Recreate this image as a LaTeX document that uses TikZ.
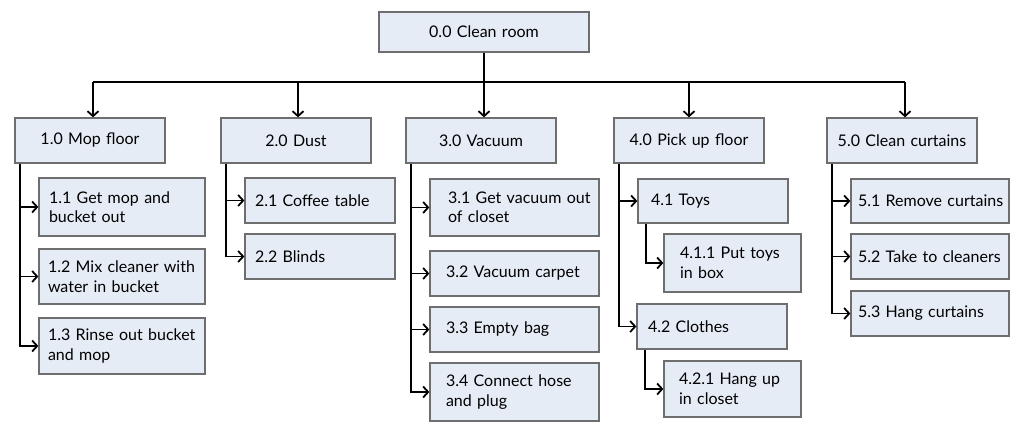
\documentclass[tikz,border=0pt]{standalone}
\usepackage{fontspec}
\setmainfont{Lato}
\usetikzlibrary{arrows.meta,calc}
\definecolor{boxfill}{HTML}{E6ECF6}
\definecolor{boxdraw}{HTML}{6E6E6E}
\tikzset{
  wbs/.style={draw=boxdraw, fill=boxfill, line width=1.3pt, rectangle, inner ysep=0pt, font=\fontsize{16}{19.5}\selectfont},
  arr/.style={line width=1.8pt, -{Straight Barb[length=5pt,width=11pt]}},
  ln/.style={line width=1.8pt},
}
% \wbsbox{name}{x1}{y1}{x2}{y2}{padleft}{align}{text}
\newcommand{\wbsbox}[8]{%
  \pgfmathsetmacro{\bw}{#4-#2}\pgfmathsetmacro{\bh}{#5-#3}%
  \pgfmathsetmacro{\tw}{#4-#2-2*#6}%
  \node[wbs, minimum width=\bw pt, minimum height=\bh pt, inner xsep=#6pt, text width=\tw pt, align=#7] (#1) at ({(#2+#4)/2},{(#3+#5)/2}) {#8};%
}
\newcommand{\wline}[1]{\mbox{#1}}
\begin{document}
\begin{tikzpicture}[x=1pt,y=-1pt]
\useasboundingbox (0,0) rectangle (1024,436);
% root
\wbsbox{root}{379}{12}{589}{52}{4}{center}{0.0 Clean room}
% level 1
\wbsbox{a}{15}{118}{165}{163}{4}{center}{1.0 Mop floor}
\wbsbox{b}{221}{118}{371}{163}{4}{center}{2.0 Dust}
\wbsbox{c}{406}{118}{556}{163}{4}{center}{3.0 Vacuum}
\wbsbox{d}{614}{118}{764}{163}{4}{center}{4.0 Pick up floor}
\wbsbox{e}{827}{118}{977}{163}{4}{center}{5.0 Clean curtains}
% level 2
\wbsbox{a1}{39}{178}{205}{236}{10}{left}{\wline{1.1 Get mop and}\\\wline{bucket out}}
\wbsbox{a2}{39}{249}{205}{304}{9}{left}{\wline{1.2 Mix cleaner with}\\\wline{water in bucket}}
\wbsbox{a3}{39}{318}{205}{374}{9}{left}{\wline{1.3 Rinse out bucket}\\\wline{and mop}}
\wbsbox{b1}{245}{178}{395}{223}{10}{left}{\wline{2.1 Coffee table}}
\wbsbox{b2}{245}{234}{395}{279}{10}{left}{\wline{2.2 Blinds}}
\wbsbox{c1}{430}{179}{599}{236}{18}{left}{\wline{3.1 Get vacuum out}\\\wline{of closet}}
\wbsbox{c2}{430}{251}{599}{296}{16}{left}{\wline{3.2 Vacuum carpet}}
\wbsbox{c3}{430}{307}{599}{352}{16}{left}{\wline{3.3 Empty bag}}
\wbsbox{c4}{430}{363}{599}{421}{16}{left}{\wline{3.4 Connect hose}\\\wline{and plug}}
\wbsbox{d1}{638}{179}{788}{223}{13}{left}{\wline{4.1 Toys}}
\wbsbox{d11}{664}{234}{801}{292}{16}{left}{\wline{4.1.1 Put toys}\\\wline{in box}}
\wbsbox{d2}{637}{304}{787}{349}{11}{left}{\wline{4.2 Clothes}}
\wbsbox{d21}{664}{361}{801}{417}{15}{left}{\wline{4.2.1 Hang up}\\\wline{in closet}}
\wbsbox{e1}{851}{179}{1009}{223}{7}{left}{\wline{5.1 Remove curtains}}
\wbsbox{e2}{851}{234}{1009}{279}{7}{left}{\wline{5.2 Take to cleaners}}
\wbsbox{e3}{851}{291}{1009}{336}{7}{left}{\wline{5.3 Hang curtains}}
% bus
\coordinate (bus) at (0,82);
\draw[ln] (root.south) -- (root.south |- bus);
\draw[ln] ([xshift=3pt]a.north |- bus) -- ([xshift=3pt]e.north |- bus);
\foreach \n/\s in {a/3,b/2,c/3,d/0,e/3}
  \draw[arr] ([xshift=\s pt]\n.north |- bus) -- ([xshift=\s pt]\n.north);
% children
\foreach \p/\k in {a/a1,a/a2,a/a3,b/b1,b/b2,c/c1,c/c2,c/c3,c/c4,d/d1,d/d2,e/e1,e/e2,e/e3}
  \draw[arr] ([xshift=5.5pt]\p.south west) |- (\k.west);
\foreach \p/\k in {d1/d11,d2/d21}
  \draw[arr] ([xshift=8.5pt]\p.south west) |- (\k.west);
\end{tikzpicture}
\end{document}
